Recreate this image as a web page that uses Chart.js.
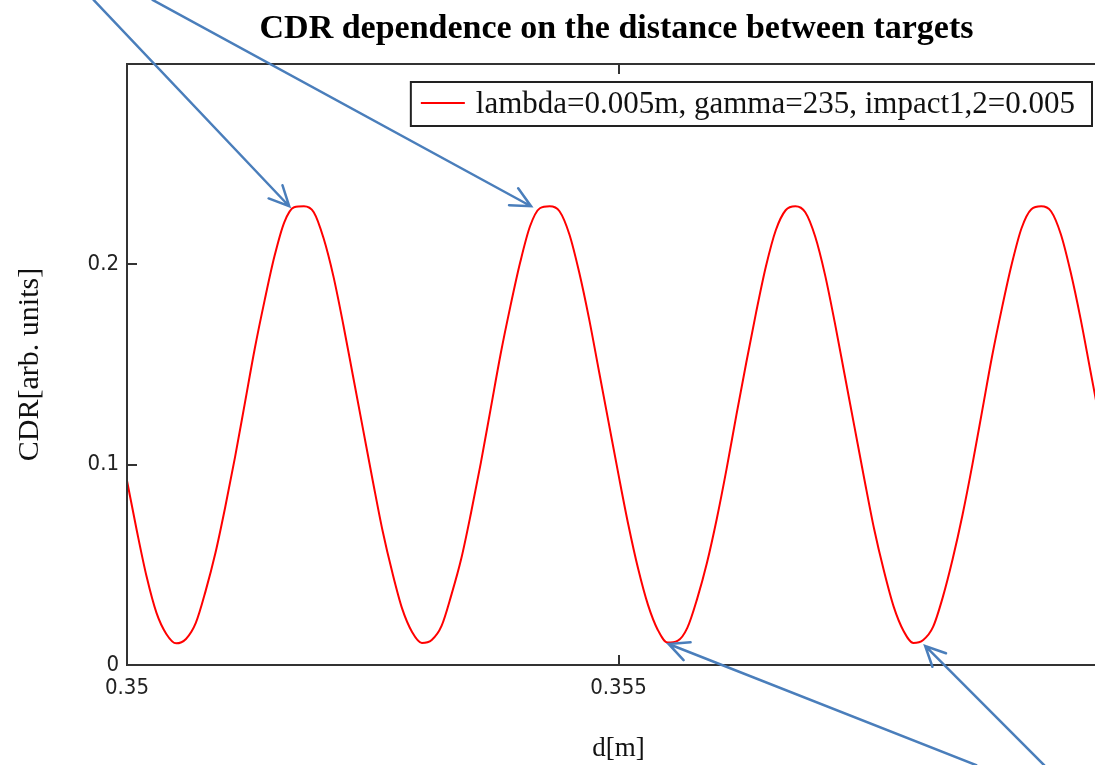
<!DOCTYPE html>
<html>
<head>
<meta charset="utf-8">
<title>CDR dependence on the distance between targets</title>
<script src="https://cdn.jsdelivr.net/npm/chart.js@4/dist/chart.umd.min.js"></script>
<style>
  html, body { margin: 0; padding: 0; background: #fff; overflow: hidden; }
  #wrap { width: 1125px; height: 765px; }
</style>
</head>
<body>
<div id="wrap"><canvas id="cdrChart" width="1125" height="765"></canvas></div>
<script>
// distance between targets, d [m]
const distances = [
  0.3500, 0.3501, 0.3502, 0.3503, 0.3504, 0.3505, 0.3506, 0.3507, 0.3508, 0.3509,
  0.3510, 0.3511, 0.3512, 0.3513, 0.3514, 0.3515, 0.3516, 0.3517, 0.3518, 0.3519,
  0.3520, 0.3521, 0.3522, 0.3523, 0.3524, 0.3525, 0.3526, 0.3527, 0.3528, 0.3529,
  0.3530, 0.3531, 0.3532, 0.3533, 0.3534, 0.3535, 0.3536, 0.3537, 0.3538, 0.3539,
  0.3540, 0.3541, 0.3542, 0.3543, 0.3544, 0.3545, 0.3546, 0.3547, 0.3548, 0.3549,
  0.3550, 0.3551, 0.3552, 0.3553, 0.3554, 0.3555, 0.3556, 0.3557, 0.3558, 0.3559,
  0.3560, 0.3561, 0.3562, 0.3563, 0.3564, 0.3565, 0.3566, 0.3567, 0.3568, 0.3569,
  0.3570, 0.3571, 0.3572, 0.3573, 0.3574, 0.3575, 0.3576, 0.3577, 0.3578, 0.3579,
  0.3580, 0.3581, 0.3582, 0.3583, 0.3584, 0.3585, 0.3586, 0.3587, 0.3588, 0.3589,
  0.3590, 0.3591, 0.3592, 0.3593, 0.3594, 0.3595, 0.3596, 0.3597, 0.3598, 0.3599,
  0.3600
];

// CDR [arb. units]
const cdrValues = [
  0.092, 0.067, 0.044, 0.026, 0.0155, 0.0108, 0.013, 0.021, 0.037, 0.056,
  0.079, 0.104, 0.131, 0.158, 0.182, 0.204, 0.221, 0.2285, 0.229, 0.226,
  0.213, 0.194, 0.170, 0.144, 0.118, 0.092, 0.067, 0.046, 0.028, 0.0165,
  0.011, 0.0125, 0.0195, 0.035, 0.053, 0.076, 0.101, 0.128, 0.155, 0.179,
  0.201, 0.219, 0.228, 0.229, 0.2265, 0.215, 0.196, 0.173, 0.147, 0.121,
  0.095, 0.070, 0.048, 0.030, 0.0175, 0.0112, 0.012, 0.0185, 0.033, 0.051,
  0.073, 0.098, 0.125, 0.151, 0.176, 0.199, 0.217, 0.227, 0.229, 0.226,
  0.214, 0.195, 0.171, 0.145, 0.119, 0.093, 0.068, 0.047, 0.029, 0.017,
  0.011, 0.0125, 0.019, 0.034, 0.053, 0.075, 0.100, 0.127, 0.154, 0.178,
  0.200, 0.218, 0.2275, 0.229, 0.2265, 0.215, 0.196, 0.173, 0.147, 0.121,
  0.095
];

const seriesLabel = 'lambda=0.005m, gamma=235, impact1,2=0.005';
const chartTitle = 'CDR dependence on the distance between targets';
const xTitle = 'd[m]';
const yTitle = 'CDR[arb. units]';

// annotation arrows (tail -> tip), in data units; tails lie outside the plot
const arrowTailX = [0.34966, 0.35026, 0.35864, 0.35933];
const arrowTailY = [0.332, 0.332, -0.050, -0.050];
const arrowTipX = [0.35165, 0.35411, 0.35551, 0.35812];
const arrowTipY = [0.229, 0.229, 0.0105, 0.0095];

const tickFont = "'DejaVu Sans Condensed', 'Liberation Sans', sans-serif";
const serif = "'Liberation Serif', 'Times New Roman', serif";

function fmt(v) {
    return String(+v.toFixed(4));
}

// frame, inner ticks, title, legend box and arrows
const decorations = {
    id: 'decorations',
    afterDraw(chart) {
        const { ctx, chartArea: a, scales: { x, y } } = chart;
        ctx.save();

        // frame
        ctx.strokeStyle = '#333';
        ctx.lineWidth = 2;
        ctx.strokeRect(a.left, a.top, a.right - a.left, a.bottom - a.top);

        // inner tick marks
        ctx.beginPath();
        x.ticks.forEach(t => {
            const px = Math.round(x.getPixelForValue(t.value));
            ctx.moveTo(px, a.bottom); ctx.lineTo(px, a.bottom - 10);
            ctx.moveTo(px, a.top); ctx.lineTo(px, a.top + 10);
        });
        y.ticks.forEach(t => {
            const py = Math.round(y.getPixelForValue(t.value));
            ctx.moveTo(a.left, py); ctx.lineTo(a.left + 10, py);
            ctx.moveTo(a.right, py); ctx.lineTo(a.right - 10, py);
        });
        ctx.stroke();

        // title
        ctx.fillStyle = '#000';
        ctx.font = `bold 34px ${serif}`;
        ctx.textAlign = 'center';
        ctx.textBaseline = 'alphabetic';
        ctx.fillText(chartTitle, (a.left + a.right) / 2 - 2, 38);

        // legend box
        const ds = chart.data.datasets[0];
        ctx.font = `31px ${serif}`;
        const tw = ctx.measureText(ds.label).width;
        const boxRight = a.right - 18;
        const boxLeft = boxRight - (65 + tw + 17);
        const boxTop = a.top + 18;
        const boxH = 44;
        ctx.fillStyle = '#fff';
        ctx.fillRect(boxLeft, boxTop, boxRight - boxLeft, boxH);
        ctx.strokeStyle = '#222';
        ctx.lineWidth = 2;
        ctx.strokeRect(boxLeft, boxTop, boxRight - boxLeft, boxH);
        ctx.strokeStyle = ds.borderColor;
        ctx.beginPath();
        ctx.moveTo(boxLeft + 10, boxTop + 21);
        ctx.lineTo(boxLeft + 54, boxTop + 21);
        ctx.stroke();
        ctx.fillStyle = '#111';
        ctx.textAlign = 'left';
        ctx.fillText(ds.label, boxLeft + 65, boxTop + 31);

        // arrows
        ctx.strokeStyle = '#4a7ebb';
        ctx.lineWidth = 2.5;
        ctx.lineCap = 'round';
        arrowTipX.forEach((tx, i) => {
            const x0 = x.getPixelForValue(arrowTailX[i]);
            const y0 = y.getPixelForValue(arrowTailY[i]);
            const x1 = x.getPixelForValue(tx);
            const y1 = y.getPixelForValue(arrowTipY[i]);
            const ang = Math.atan2(y1 - y0, x1 - x0);
            const len = 22, spread = 0.45;
            ctx.beginPath();
            ctx.moveTo(x0, y0);
            ctx.lineTo(x1, y1);
            ctx.moveTo(x1 - len * Math.cos(ang - spread), y1 - len * Math.sin(ang - spread));
            ctx.lineTo(x1, y1);
            ctx.lineTo(x1 - len * Math.cos(ang + spread), y1 - len * Math.sin(ang + spread));
            ctx.stroke();
        });

        ctx.restore();
    }
};

new Chart(document.getElementById('cdrChart'), {
    type: 'line',
    data: {
        datasets: [{
            label: seriesLabel,
            data: distances.map((d, i) => ({ x: d, y: cdrValues[i] })),
            borderColor: '#ff0000',
            borderWidth: 2,
            pointRadius: 0,
            cubicInterpolationMode: 'monotone',
            fill: false
        }]
    },
    options: {
        responsive: false,
        animation: false,
        devicePixelRatio: 1,
        layout: { padding: { top: 64, right: 15, left: 0, bottom: 0 } },
        plugins: {
            legend: { display: false },
            title: { display: false },
            tooltip: { enabled: false }
        },
        scales: {
            x: {
                type: 'linear',
                min: 0.35,
                max: 0.36,
                afterFit: s => { s.height = 100; },
                grid: { display: false },
                border: { display: false },
                ticks: {
                    stepSize: 0.005,
                    maxRotation: 0,
                    padding: 2,
                    color: '#222',
                    font: { family: tickFont, size: 22 },
                    callback: (v, i, ticks) => i === ticks.length - 1 ? '' : fmt(v)
                },
                title: {
                    display: true,
                    text: xTitle,
                    color: '#111',
                    font: { family: serif, size: 27 },
                    padding: { top: 0, bottom: 0 }
                }
            },
            y: {
                min: 0,
                max: 0.3,
                afterFit: s => { s.width = 127; },
                grid: { display: false },
                border: { display: false },
                ticks: {
                    stepSize: 0.1,
                    padding: 0,
                    color: '#222',
                    font: { family: tickFont, size: 22 },
                    callback: (v, i, ticks) => i === ticks.length - 1 ? '' : fmt(v)
                },
                title: {
                    display: true,
                    text: yTitle,
                    color: '#111',
                    font: { family: serif, size: 30 },
                    padding: { top: 12, bottom: 0 }
                }
            }
        }
    },
    plugins: [decorations]
});
</script>
</body>
</html>
